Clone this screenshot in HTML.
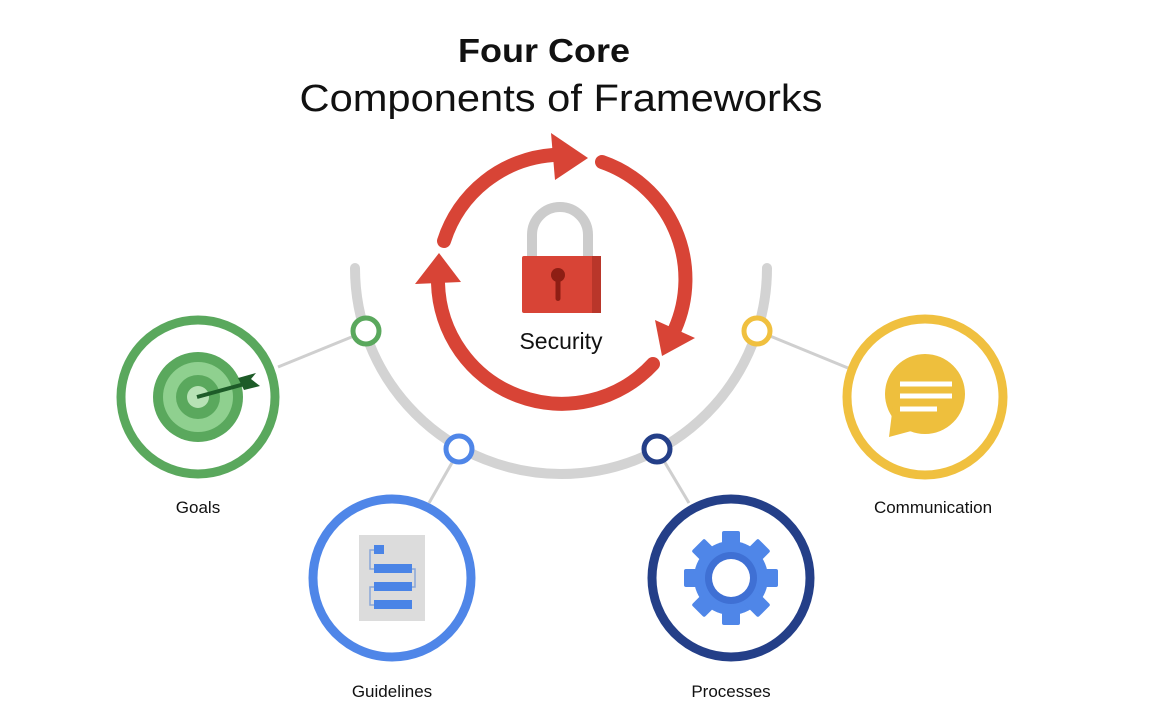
<!DOCTYPE html>
<html><head><meta charset="utf-8"><style>
html,body{margin:0;padding:0;background:#fff;}
svg{display:block;}
text{font-family:"Liberation Sans",sans-serif;fill:#111;}
</style></head><body>
<svg width="1151" height="726" viewBox="0 0 1151 726" xmlns="http://www.w3.org/2000/svg">
<rect width="1151" height="726" fill="#fff"/>
<!-- Title -->
<text x="544" y="62" text-anchor="middle" font-size="33" font-weight="bold" textLength="172" lengthAdjust="spacingAndGlyphs">Four Core</text>
<text x="561" y="111" text-anchor="middle" font-size="38" textLength="523" lengthAdjust="spacingAndGlyphs">Components of Frameworks</text>

<!-- gray arc -->
<path d="M355 268 A206 206 0 0 0 767 268" fill="none" stroke="#d3d3d3" stroke-width="10" stroke-linecap="round"/>

<!-- connectors -->
<g stroke="#cfcfcf" stroke-width="3">
<line x1="278" y1="367" x2="354" y2="336"/>
<line x1="429" y1="503" x2="453" y2="461"/>
<line x1="689" y1="503" x2="664" y2="461"/>
<line x1="770" y1="336" x2="848" y2="368"/>
</g>

<!-- small rings -->
<circle cx="366" cy="331" r="13" fill="#fff" stroke="#5aa85d" stroke-width="5"/>
<circle cx="459" cy="449" r="13" fill="#fff" stroke="#4f86e8" stroke-width="5"/>
<circle cx="657" cy="449" r="13" fill="#fff" stroke="#243f88" stroke-width="5"/>
<circle cx="757" cy="331" r="13" fill="#fff" stroke="#f0c03f" stroke-width="5"/>

<!-- Red cycle -->
<g fill="none" stroke="#d84436" stroke-width="14" stroke-linecap="round">
<path d="M444 241 A124 124 0 0 1 553 155"/>
<path d="M602 162 A124 124 0 0 1 675 329"/>
<path d="M653 364 A124 124 0 0 1 438 283"/>
</g>
<g fill="#d84436">
<polygon points="551,133 555,180 588,158"/>
<polygon points="695,338 655,320 662,356"/>
<polygon points="415,284 461,282 439,253"/>
</g>

<!-- Lock -->
<path d="M532 258 V235 A28 28 0 0 1 588 235 V258" fill="none" stroke="#cccccc" stroke-width="10"/>
<rect x="522" y="256" width="79" height="57" rx="2" fill="#d84436"/>
<rect x="592" y="256" width="9" height="57" fill="#b9362a"/>
<circle cx="558" cy="275" r="7" fill="#8e1e14"/>
<rect x="555.5" y="276" width="5" height="25" rx="2.5" fill="#8e1e14"/>
<text x="561" y="349" text-anchor="middle" font-size="23">Security</text>

<!-- Goals -->
<circle cx="198" cy="397" r="77" fill="#fff" stroke="#5aa85d" stroke-width="9"/>
<circle cx="198" cy="397" r="45" fill="#5aa85d"/>
<circle cx="198" cy="397" r="35" fill="#8fd08f"/>
<circle cx="198" cy="397" r="22" fill="#5aa85d"/>
<circle cx="198" cy="397" r="11" fill="#b7e2b5"/>
<line x1="197" y1="397" x2="252" y2="382" stroke="#1d5b28" stroke-width="4"/>
<polygon points="238,378 256,373 251,379 260,386 244,390" fill="#1d5b28"/>
<text x="198" y="513" text-anchor="middle" font-size="17">Goals</text>

<!-- Guidelines -->
<circle cx="392" cy="578" r="79" fill="#fff" stroke="#4f86e8" stroke-width="9"/>
<rect x="359" y="535" width="66" height="86" fill="#dcdcdc"/>
<g fill="none" stroke="#8aa6d8" stroke-width="1.5">
<path d="M374 550 H370 V569 H374"/>
<path d="M411 569 H415 V587 H411"/>
<path d="M374 587 H370 V605 H374"/>
</g>
<g fill="#4a84e6">
<rect x="374" y="545" width="10" height="9"/>
<rect x="374" y="564" width="38" height="9"/>
<rect x="374" y="582" width="38" height="9"/>
<rect x="374" y="600" width="38" height="9"/>
</g>
<text x="392" y="697" text-anchor="middle" font-size="17">Guidelines</text>

<!-- Processes -->
<circle cx="731" cy="578" r="79" fill="#fff" stroke="#243f88" stroke-width="9"/>
<g fill="#4f86e8" transform="translate(731,578)">
<circle r="37"/>
<rect x="-9" y="-47" width="18" height="20" rx="2"/>
<rect x="-9" y="-47" width="18" height="20" rx="2" transform="rotate(45)"/>
<rect x="-9" y="-47" width="18" height="20" rx="2" transform="rotate(90)"/>
<rect x="-9" y="-47" width="18" height="20" rx="2" transform="rotate(135)"/>
<rect x="-9" y="-47" width="18" height="20" rx="2" transform="rotate(180)"/>
<rect x="-9" y="-47" width="18" height="20" rx="2" transform="rotate(225)"/>
<rect x="-9" y="-47" width="18" height="20" rx="2" transform="rotate(270)"/>
<rect x="-9" y="-47" width="18" height="20" rx="2" transform="rotate(315)"/>
<circle r="26" fill="#3f70d4"/>
<circle r="19" fill="#fff"/>
</g>
<text x="731" y="697" text-anchor="middle" font-size="17">Processes</text>

<!-- Communication -->
<circle cx="925" cy="397" r="78" fill="#fff" stroke="#f0c03f" stroke-width="9"/>
<circle cx="925" cy="394" r="40" fill="#eebf3d"/>
<polygon points="889,437 893,405 915,430" fill="#eebf3d"/>
<g stroke="#fff" stroke-width="5">
<line x1="900" y1="384" x2="952" y2="384"/>
<line x1="900" y1="396" x2="952" y2="396"/>
<line x1="900" y1="409" x2="937" y2="409"/>
</g>
<text x="933" y="513" text-anchor="middle" font-size="17">Communication</text>
</svg>
</body></html>
